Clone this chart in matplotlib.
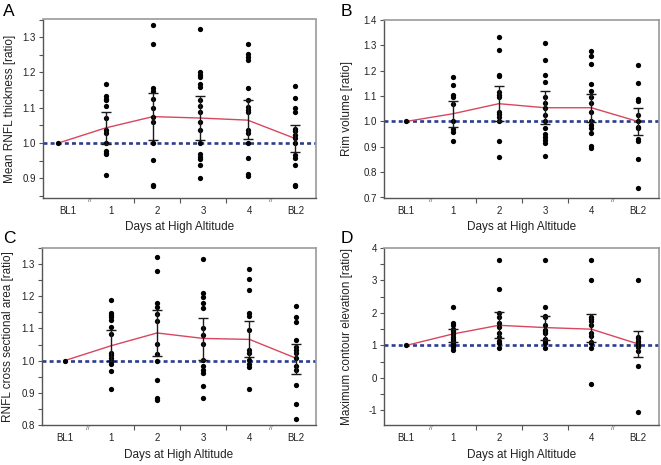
import matplotlib
matplotlib.use("Agg")
import matplotlib.pyplot as plt
from matplotlib.ticker import MultipleLocator, FixedLocator
import numpy as np

plt.rcParams['font.family'] = ['Liberation Sans', 'DejaVu Sans']

categories = ['BL1', '1', '2', '3', '4', 'BL2']

# A - mean RNFL thickness
rnfl_pts = [
    [1.0],
    [1.167, 1.132, 1.126, 1.121, 1.106, 1.070, 1.037, 1.030, 1.0, 0.979, 0.973, 0.968, 0.909],
    [1.334, 1.281, 1.157, 1.147, 1.125, 1.100, 1.074, 1.059, 1.0, 0.953, 0.882, 0.878],
    [1.322, 1.202, 1.194, 1.186, 1.168, 1.159, 1.122, 1.104, 1.087, 1.061, 1.036, 1.0,
     0.970, 0.962, 0.955, 0.939, 0.902],
    [1.281, 1.252, 1.245, 1.236, 1.156, 1.122, 1.102, 1.093, 1.088, 1.036, 1.029, 1.0,
     0.959, 0.913, 0.908],
    [1.161, 1.129, 1.100, 1.089, 1.040, 1.033, 1.024, 1.014, 1.0, 0.965, 0.958, 0.939,
     0.882, 0.878],
]
rnfl_mean = [1.0, 1.043, 1.075, 1.071, 1.065, 1.013]
rnfl_hi = [1.088, 1.142, 1.132, 1.122, 1.051]
rnfl_lo = [0.998, 1.008, 1.008, 1.011, 0.976]

# B - rim volume
rim_pts = [
    [1.0],
    [1.176, 1.143, 1.106, 1.096, 1.069, 1.0, 0.971, 0.960, 0.923],
    [1.334, 1.280, 1.185, 1.180, 1.116, 1.106, 1.095, 1.037, 1.029, 1.018, 1.0, 0.923, 0.859],
    [1.308, 1.244, 1.185, 1.156, 1.098, 1.074, 1.053, 1.024, 1.0, 0.974, 0.952, 0.937,
     0.926, 0.915, 0.864],
    [1.277, 1.259, 1.226, 1.147, 1.120, 1.098, 1.074, 1.036, 1.0, 0.987, 0.974, 0.954,
     0.902, 0.897],
    [1.221, 1.152, 1.090, 1.079, 1.026, 1.0, 0.980, 0.974, 0.931, 0.923, 0.851, 0.736],
]
rim_mean = [1.0, 1.030, 1.070, 1.054, 1.054, 1.0]
rim_hi = [1.082, 1.140, 1.119, 1.108, 1.053]
rim_lo = [0.979, 1.0, 0.989, 0.996, 0.945]

# C - RNFL cross sectional area
area_pts = [
    [1.0],
    [1.189, 1.149, 1.142, 1.135, 1.125, 1.106, 1.084, 1.024, 1.016, 1.008, 1.0, 0.991,
     0.967, 0.913],
    [1.323, 1.280, 1.178, 1.166, 1.145, 1.124, 1.053, 1.022, 1.0, 0.941, 0.885, 0.877],
    [1.316, 1.211, 1.197, 1.178, 1.163, 1.101, 1.080, 1.053, 1.003, 0.982, 0.970, 0.962,
     0.921, 0.885],
    [1.284, 1.253, 1.218, 1.147, 1.139, 1.096, 1.032, 1.024, 1.003, 0.991, 0.980, 0.913],
    [1.171, 1.135, 1.120, 1.063, 1.042, 1.032, 1.024, 1.008, 0.982, 0.972, 0.924, 0.864,
     0.818],
]
area_mean = [1.0, 1.046, 1.086, 1.069, 1.066, 1.008]
area_hi = [1.094, 1.158, 1.133, 1.122, 1.052]
area_lo = [1.0, 1.015, 1.001, 1.011, 0.959]

# D - maximum contour elevation
elev_pts = [
    [1.0],
    [2.18, 1.68, 1.62, 1.52, 1.45, 1.35, 1.27, 1.20, 1.14, 1.10, 1.06, 1.0, 0.94, 0.86],
    [3.62, 2.74, 2.0, 1.87, 1.68, 1.56, 1.37, 1.25, 1.14, 1.06, 0.92],
    [3.62, 2.18, 1.92, 1.87, 1.63, 1.49, 1.43, 1.37, 1.20, 1.14, 1.06, 0.92],
    [3.62, 3.0, 1.87, 1.80, 1.76, 1.62, 1.39, 1.29, 1.10, 1.06, 0.92, -0.18],
    [3.0, 1.27, 1.22, 1.14, 1.10, 1.05, 1.0, 0.94, 0.84, 0.38, -1.05],
]
elev_mean = [1.0, 1.35, 1.62, 1.55, 1.50, 1.05]
elev_hi = [1.52, 2.04, 1.92, 1.97, 1.44]
elev_lo = [1.10, 1.22, 1.16, 1.10, 0.63]

panels = [
    dict(letter='A', pts=rnfl_pts, mean=rnfl_mean, hi=rnfl_hi, lo=rnfl_lo,
         ylabel='Mean RNFL thickness [ratio]', ylim=(0.846, 1.35), major=0.1, minor=0.05,
         fmt='%.1f', rect=(43, 19.5, 316, 197.5), xlim=(-0.32, 5.44),
         xt=[0.21, 1.11, 2.1, 3.06, 4.03, 5.01], mt=[1.6, 2.58, 3.55], br=[0.67, 4.49],
         letter_xy=(3, 4), ylx=-0.122, xly=-0.165),
    dict(letter='B', pts=rim_pts, mean=rim_mean, hi=rim_hi, lo=rim_lo,
         ylabel='Rim volume [ratio]', ylim=(0.7, 1.4), major=0.1, minor=None,
         fmt='%.1f', rect=(384, 20, 659, 197.5), xlim=(-0.48, 5.46),
         xt=[0, 1, 2, 3, 4, 5], mt=[1.5, 2.5, 3.5], br=[0.52, 4.46],
         letter_xy=(341, 4), ylx=-0.135, xly=-0.165),
    dict(letter='C', pts=area_pts, mean=area_mean, hi=area_hi, lo=area_lo,
         ylabel='RNFL cross sectional area [ratio]', ylim=(0.8, 1.35), major=0.1, minor=0.05,
         fmt='%.1f', rect=(42, 248, 316, 425), xlim=(-0.49, 5.44),
         xt=[0, 1, 2, 3, 4, 5], mt=[1.5, 2.5, 3.5], br=[0.5, 4.45],
         letter_xy=(3, 231), ylx=-0.123, xly=-0.172),
    dict(letter='D', pts=elev_pts, mean=elev_mean, hi=elev_hi, lo=elev_lo,
         ylabel='Maximum contour elevation [ratio]', ylim=(-1.45, 4.0), major=1, minor=0.5,
         fmt='%d', rect=(384, 248, 659, 425), xlim=(-0.48, 5.46),
         xt=[0, 1, 2, 3, 4, 5], mt=[1.5, 2.5, 3.5], br=[0.52, 4.46],
         letter_xy=(341, 231), ylx=-0.135, xly=-0.172),
]

W, H = 661, 465
fig = plt.figure(figsize=(W / 100, H / 100), dpi=100)
fig.patch.set_facecolor('white')

x = np.arange(len(categories))

for p in panels:
    l, t, r, b = p['rect']
    ax = fig.add_axes([l / W, 1 - b / H, (r - l) / W, (b - t) / H])

    ax.axhline(1.0, color='#2b3b8f', lw=1.9, ls=(0, (1.5, 1.2)), zorder=2)
    ax.plot(x, p['mean'], color='#d8465f', lw=1.0, zorder=3)

    for i, vals in enumerate(p['pts']):
        ax.plot([x[i]] * len(vals), vals, 'o', color='black', ms=3.8, mew=0, zorder=4)

    m = np.array(p['mean'][1:])
    ax.errorbar(x[1:], m, yerr=[m - np.array(p['lo']), np.array(p['hi']) - m],
                fmt='none', ecolor='#1a1a1a', elinewidth=1.0, capsize=3.6,
                capthick=1.0, zorder=5)

    ax.set_xlim(*p['xlim'])
    ax.set_ylim(*p['ylim'])
    ax.set_xticks(p['xt'])
    ax.set_xticklabels(categories)
    ax.xaxis.set_minor_locator(FixedLocator(p['mt']))
    ax.yaxis.set_major_locator(MultipleLocator(p['major']))
    if p['minor']:
        ax.yaxis.set_minor_locator(MultipleLocator(p['minor']))
    ax.yaxis.set_major_formatter(matplotlib.ticker.FormatStrFormatter(p['fmt']))

    ax.tick_params(axis='x', which='major', length=0, pad=6, labelsize=7, colors='#222')
    ax.tick_params(axis='x', which='minor', length=3.5, width=0.8, color='#555')
    ax.tick_params(axis='y', which='both', length=3, width=0.8, color='#555',
                   labelsize=7, labelcolor='#222', pad=2)

    for side in ['top', 'right']:
        ax.spines[side].set_color('#9a9a9a')
        ax.spines[side].set_linewidth(1.2)
    for side in ['left', 'bottom']:
        ax.spines[side].set_color('#555555')
        ax.spines[side].set_linewidth(1.0)

    for bx in p['br']:
        ax.text(bx, -0.005, '//', transform=ax.get_xaxis_transform(), ha='center',
                va='top', fontsize=4.5, color='#444')

    ax.set_ylabel(p['ylabel'], fontsize=8.5, color='#222', va='center')
    ax.yaxis.set_label_coords(p['ylx'], 0.5)
    ax.set_xlabel('Days at High Altitude', fontsize=8.5, color='#222', va='center')
    ax.xaxis.set_label_coords(0.5, p['xly'])

    fig.text(p['letter_xy'][0] / W, 1 - p['letter_xy'][1] / H, p['letter'],
             fontsize=12.5, va='top', ha='left', color='black')

fig.savefig('out.png', dpi=100)
